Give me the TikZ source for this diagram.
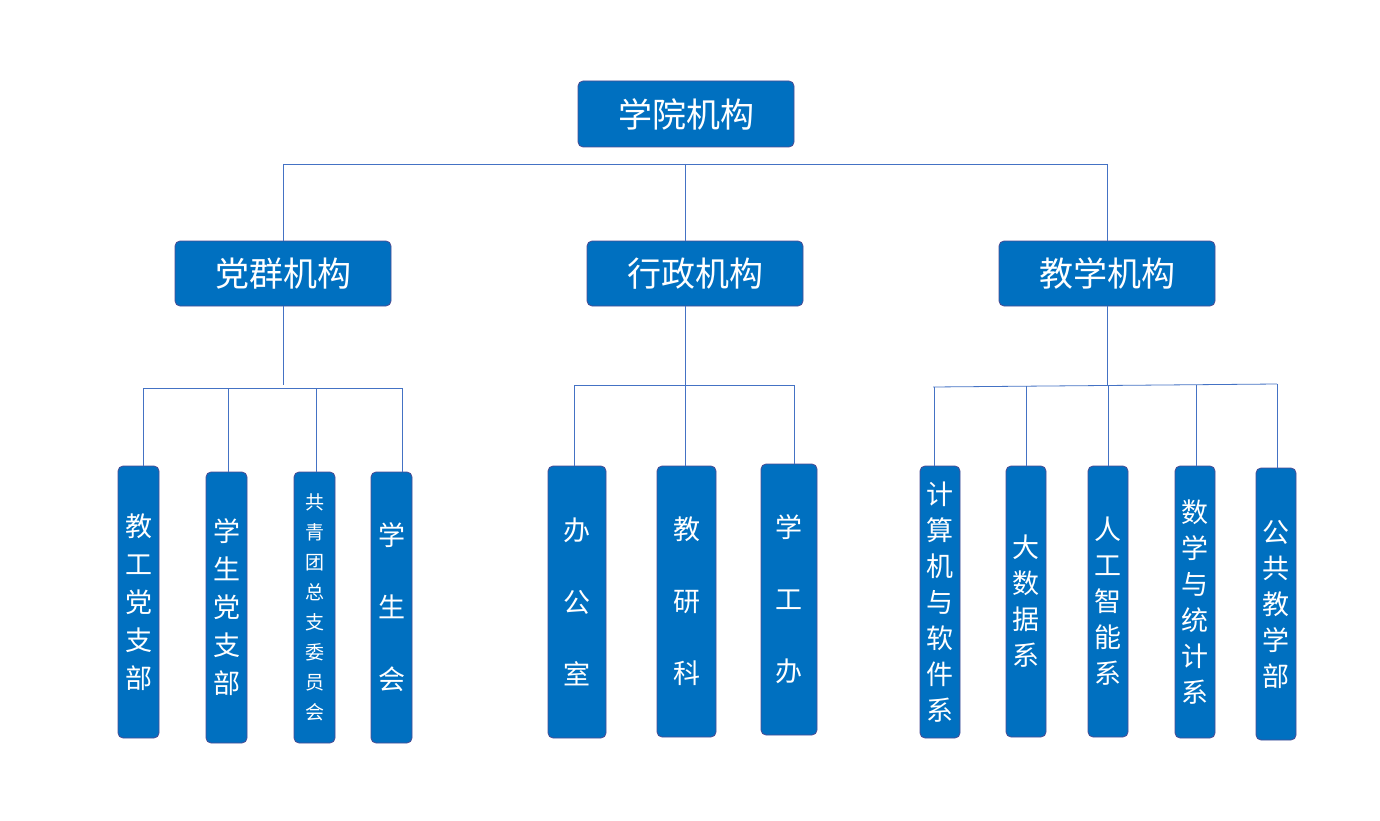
\documentclass[tikz,border=0pt]{standalone}
\usepackage{fontspec}
\setmainfont{Noto Sans CJK SC}
\begin{document}
\begin{tikzpicture}[x=1pt,y=-1pt,
  box/.style={draw=blue!40!black!70, fill=boxblue, rounded corners=5pt, text=white, inner sep=0pt, align=center, line width=0.8pt},
  big/.style={box, font=\fontsize{34}{36}\selectfont},
  vb/.style={box, font=\fontsize{27}{36}\selectfont},
  ln/.style={draw=lineblue, line width=0.8pt}]
\definecolor{boxblue}{HTML}{0070C0}
\definecolor{lineblue}{HTML}{4472C4}
\fill[white] (0,0) rectangle (1380,821);
\useasboundingbox (0,0) rectangle (1380,821);
\node[big, minimum width=216, minimum height=66] (top) at (686,114) {学院机构};
\node[big, minimum width=216, minimum height=65] (p) at (283,273.5) {党群机构};
\node[big, minimum width=216, minimum height=65] (x) at (695,273.5) {行政机构};
\node[big, minimum width=216, minimum height=65] (j) at (1107,273.5) {教学机构};
% party children
\node[vb, minimum width=41, minimum height=272, font=\fontsize{27}{38}\selectfont] (p1) at (138.5,602) {教\\工\\党\\支\\部};
\node[vb, minimum width=41, minimum height=271, font=\fontsize{27}{38}\selectfont] (p2) at (226.5,607.5) {学\\生\\党\\支\\部};
\node[vb, minimum width=41, minimum height=271, font=\fontsize{19}{30}\selectfont] (p3) at (314.5,607.5) {共\\青\\团\\总\\支\\委\\员\\会};
\node[vb, minimum width=41, minimum height=271, font=\fontsize{27}{72}\selectfont] (p4) at (391.5,607.5) {学\\生\\会};
% admin children
\node[vb, minimum width=58, minimum height=272, font=\fontsize{27}{72}\selectfont] (x1) at (577,602) {办\\公\\室};
\node[vb, minimum width=59, minimum height=271, font=\fontsize{27}{72}\selectfont] (x2) at (686.5,601.5) {教\\研\\科};
\node[vb, minimum width=56, minimum height=271, font=\fontsize{27}{72}\selectfont] (x3) at (789,599.5) {学\\工\\办};
% teaching children
\node[vb, minimum width=40, minimum height=272, font=\fontsize{27}{36}\selectfont] (j1) at (940,602) {计\\算\\机\\与\\软\\件\\系};
\node[vb, minimum width=40, minimum height=271, font=\fontsize{27}{36}\selectfont] (j2) at (1026,601.5) {大\\数\\据\\系};
\node[vb, minimum width=40, minimum height=271, font=\fontsize{27}{36}\selectfont] (j3) at (1108,601.5) {人\\工\\智\\能\\系};
\node[vb, minimum width=40, minimum height=272, font=\fontsize{27}{36}\selectfont] (j4) at (1195,602) {数\\学\\与\\统\\计\\系};
\node[vb, minimum width=40, minimum height=272, font=\fontsize{27}{36}\selectfont] (j5) at (1276,604) {公\\共\\教\\学\\部};
% connectors
\coordinate (hL) at (283,164); \coordinate (hR) at (1107,164);
\draw[ln] (hL) -- (hR);
\draw[ln] (hL) -- (p.north);
\draw[ln] (685,164) -- (685,241);
\draw[ln] (hR) -- (j.north);
% party
\draw[ln] (p.south) -- (283,385);
\draw[ln] (143,388) -- (403,388);
\draw[ln] (143,388) -- (p1.north -| 143,0);
\draw[ln] (228,388) -- (p2.north -| 228,0);
\draw[ln] (316,388) -- (p3.north -| 316,0);
\draw[ln] (402,388) -- (p4.north -| 402,0);
% admin
\draw[ln] (685,306) -- (685,385);
\draw[ln] (574,385) -- (794,385);
\draw[ln] (574,385) -- (x1.north -| 574,0);
\draw[ln] (685,385) -- (x2.north -| 685,0);
\draw[ln] (794,385) -- (x3.north -| 794,0);
% teaching
\draw[ln] (j.south) -- (1107,385);
\draw[ln] (933,387) -- (1277,384);
\draw[ln] (934,387) -- (j1.north -| 934,0);
\draw[ln] (1026,386) -- (j2.north -| 1026,0);
\draw[ln] (1108,385) -- (j3.north -| 1108,0);
\draw[ln] (1196,385) -- (j4.north -| 1196,0);
\draw[ln] (1277,384) -- (j5.north -| 1277,0);
\end{tikzpicture}
\end{document}
